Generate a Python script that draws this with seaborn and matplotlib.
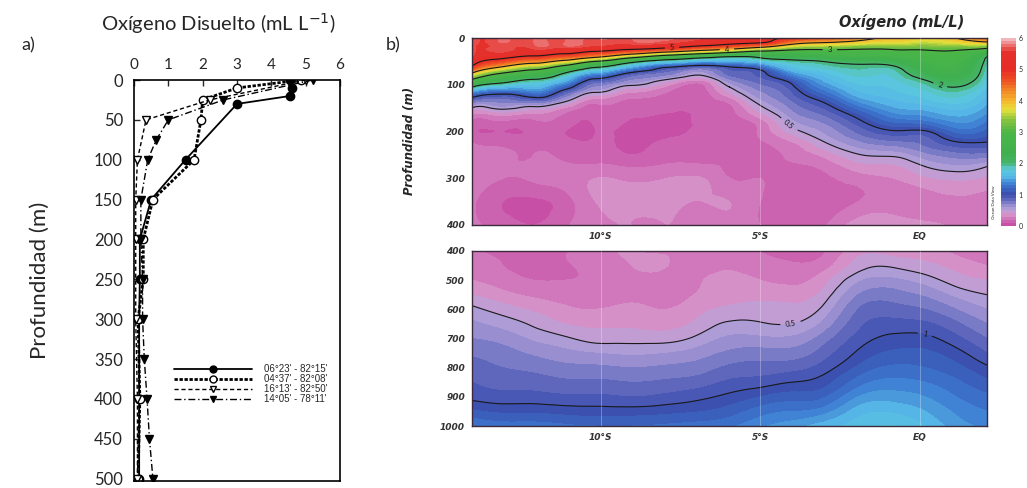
import numpy as np
import pandas as pd
import matplotlib
matplotlib.use("Agg")
import matplotlib.pyplot as plt
import matplotlib.tri as mtri
import seaborn as sns
from matplotlib.colors import LinearSegmentedColormap
from matplotlib.lines import Line2D

sns.set_style("white")
plt.rcParams["font.family"] = ["Lato", "DejaVu Sans"]

# ---------------- panel a) : vertical O2 profiles ----------------
station_labels = ["06°23' - 82°15'", "04°37' - 82°08'", "16°13' - 82°50'", "14°05' - 78°11'"]
s1_depth = [0, 10, 20, 30, 100, 150, 200, 250, 300, 400, 500]
s1_o2 = [4.55, 4.6, 4.55, 3.0, 1.5, 0.5, 0.17, 0.17, 0.15, 0.15, 0.15]
s2_depth = [0, 10, 25, 50, 100, 150, 200, 250, 300, 400, 500]
s2_o2 = [4.85, 3.0, 2.0, 1.95, 1.75, 0.55, 0.27, 0.27, 0.12, 0.17, 0.12]
s3_depth = [0, 25, 50, 100, 150, 200, 300, 400, 500]
s3_o2 = [5.0, 2.2, 0.35, 0.1, 0.05, 0.05, 0.05, 0.1, 0.1]
s4_depth = [0, 25, 50, 75, 100, 150, 200, 250, 300, 350, 400, 450, 500]
s4_o2 = [5.2, 2.6, 1.0, 0.65, 0.4, 0.2, 0.2, 0.25, 0.25, 0.3, 0.38, 0.45, 0.55]
o2_ticks = [0, 1, 2, 3, 4, 5, 6]
depth_ticks_a = list(range(0, 501, 50))

# ---------------- panel b) : section (stations along the coast) ----------------
sec_dist = [0, 6, 12, 18, 24, 31, 38, 45, 50, 56, 62, 68, 75, 82, 88, 94, 100]
sec_depth = [0, 10, 20, 30, 40, 50, 60, 75, 90, 105, 120, 140, 160, 180, 200, 225, 250,
             275, 300, 350, 400, 450, 500, 550, 600, 650, 700, 750, 800, 850, 900, 950, 1000]
st00 = [5.7, 5.7, 5.65, 5.65, 5.6, 5.3, 5.0, 4.0, 2.9, 2.0, 1.25, 0.67, 0.33, 0.17, 0.12, 0.2, 0.25,
        0.25, 0.25, 0.22, 0.22, 0.25, 0.3, 0.4, 0.53, 0.62, 0.7, 0.78, 0.85, 0.9, 0.97, 1.12, 1.3]
st06 = [5.7, 5.7, 5.65, 5.6, 5.2, 4.7, 4.1, 3.0, 2.25, 1.6, 1.0, 0.67, 0.38, 0.18, 0.1, 0.17, 0.22,
        0.22, 0.2, 0.1, 0.15, 0.2, 0.25, 0.33, 0.45, 0.56, 0.66, 0.74, 0.8, 0.86, 0.94, 1.08, 1.25]
st12 = [5.7, 5.7, 5.65, 5.4, 4.9, 4.3, 3.55, 2.6, 1.95, 1.57, 1.2, 0.65, 0.32, 0.17, 0.12, 0.16, 0.2,
        0.22, 0.22, 0.08, 0.1, 0.15, 0.2, 0.28, 0.38, 0.48, 0.58, 0.68, 0.77, 0.85, 0.94, 1.08, 1.25]
st18 = [5.7, 5.7, 5.62, 5.2, 4.6, 3.8, 2.9, 2.0, 1.57, 1.14, 0.8, 0.44, 0.2, 0.15, 0.1, 0.14, 0.18,
        0.22, 0.25, 0.15, 0.18, 0.18, 0.2, 0.25, 0.32, 0.4, 0.52, 0.63, 0.73, 0.82, 0.92, 1.06, 1.22]
st24 = [5.7, 5.65, 5.5, 4.9, 4.15, 3.0, 2.15, 1.45, 0.92, 0.67, 0.44, 0.2, 0.15, 0.12, 0.1, 0.12, 0.15,
        0.22, 0.3, 0.3, 0.28, 0.25, 0.22, 0.24, 0.3, 0.38, 0.46, 0.6, 0.72, 0.82, 0.92, 1.05, 1.2]
st31 = [5.7, 5.65, 5.3, 4.5, 3.3, 2.2, 1.6, 0.95, 0.68, 0.44, 0.26, 0.17, 0.12, 0.09, 0.06, 0.07, 0.1,
        0.19, 0.28, 0.32, 0.3, 0.3, 0.28, 0.28, 0.32, 0.38, 0.46, 0.58, 0.7, 0.8, 0.9, 1.05, 1.2]
st38 = [5.7, 5.62, 5.1, 4.0, 2.6, 1.75, 1.12, 0.75, 0.47, 0.27, 0.18, 0.12, 0.1, 0.09, 0.08, 0.12, 0.15,
        0.22, 0.3, 0.32, 0.3, 0.3, 0.28, 0.27, 0.3, 0.36, 0.46, 0.6, 0.72, 0.82, 0.93, 1.07, 1.22]
st45 = [5.6, 5.4, 4.7, 3.5, 2.2, 1.47, 0.93, 0.57, 0.32, 0.18, 0.15, 0.13, 0.12, 0.12, 0.12, 0.13, 0.15,
        0.22, 0.3, 0.3, 0.28, 0.28, 0.3, 0.32, 0.38, 0.45, 0.55, 0.66, 0.76, 0.86, 0.98, 1.1, 1.25]
st50 = [5.3, 5.15, 4.45, 3.15, 2.0, 1.52, 1.05, 0.84, 0.67, 0.5, 0.37, 0.2, 0.17, 0.14, 0.12, 0.14, 0.16,
        0.18, 0.2, 0.3, 0.25, 0.28, 0.32, 0.36, 0.42, 0.52, 0.62, 0.72, 0.82, 0.92, 1.03, 1.15, 1.28]
st56 = [5.1, 5.02, 4.0, 2.8, 2.1, 1.67, 1.25, 0.94, 0.85, 0.75, 0.66, 0.53, 0.39, 0.25, 0.22, 0.18, 0.15,
        0.18, 0.2, 0.2, 0.2, 0.25, 0.3, 0.36, 0.44, 0.51, 0.62, 0.74, 0.84, 0.95, 1.1, 1.25, 1.38]
st62 = [4.9, 4.3, 3.45, 2.7, 2.25, 1.9, 1.7, 1.4, 1.1, 0.95, 0.87, 0.76, 0.66, 0.55, 0.44, 0.28, 0.22,
        0.18, 0.15, 0.15, 0.15, 0.22, 0.28, 0.35, 0.43, 0.5, 0.62, 0.74, 0.86, 1.0, 1.15, 1.3, 1.45]
st68 = [4.6, 4.0, 3.3, 2.75, 2.35, 2.0, 1.85, 1.65, 1.5, 1.35, 1.18, 0.97, 0.82, 0.7, 0.6, 0.47, 0.32,
        0.22, 0.17, 0.15, 0.18, 0.25, 0.35, 0.43, 0.52, 0.62, 0.74, 0.84, 0.94, 1.05, 1.18, 1.35, 1.55]
st75 = [4.2, 3.8, 3.2, 2.8, 2.5, 2.15, 1.95, 1.85, 1.75, 1.65, 1.55, 1.35, 1.12, 0.95, 0.82, 0.66, 0.49,
        0.35, 0.25, 0.2, 0.35, 0.45, 0.58, 0.7, 0.8, 0.87, 0.94, 1.02, 1.12, 1.25, 1.4, 1.55, 1.65]
st82 = [3.95, 3.7, 3.2, 2.85, 2.55, 2.25, 2.0, 1.85, 1.78, 1.72, 1.66, 1.55, 1.4, 1.2, 0.98, 0.75, 0.53,
        0.38, 0.3, 0.25, 0.35, 0.48, 0.62, 0.74, 0.84, 0.94, 1.03, 1.12, 1.22, 1.33, 1.45, 1.58, 1.7]
st88 = [3.8, 3.55, 3.2, 2.9, 2.75, 2.6, 2.45, 2.25, 2.0, 1.85, 1.75, 1.62, 1.45, 1.25, 0.98, 0.82, 0.66,
        0.5, 0.38, 0.25, 0.32, 0.43, 0.55, 0.68, 0.8, 0.92, 1.03, 1.12, 1.2, 1.3, 1.4, 1.5, 1.6]
st94 = [4.0, 3.7, 3.25, 2.92, 2.8, 2.65, 2.55, 2.4, 2.2, 2.0, 1.85, 1.7, 1.55, 1.4, 1.22, 0.97, 0.75,
        0.57, 0.42, 0.28, 0.28, 0.36, 0.45, 0.57, 0.7, 0.82, 0.93, 1.04, 1.13, 1.22, 1.3, 1.38, 1.45]
st100 = [4.5, 3.9, 3.15, 2.5, 2.0, 1.9, 1.85, 1.8, 1.75, 1.68, 1.6, 1.5, 1.4, 1.28, 1.15, 0.98, 0.75,
         0.5, 0.38, 0.25, 0.22, 0.3, 0.4, 0.5, 0.6, 0.7, 0.8, 0.9, 1.02, 1.12, 1.22, 1.3, 1.38]
stations = [st00, st06, st12, st18, st24, st31, st38, st45, st50, st56, st62, st68, st75, st82, st88, st94, st100]
lat_ticks = [25, 56, 87]
lat_labels = ["10°S", "5°S", "EQ"]
iso_levels = [0.5, 1, 2, 3, 4, 5]
cbar_ticks = [0, 1, 2, 3, 4, 5, 6]

# ODV-like palette
cmap_stops = [(0.0, "#c4459f"), (0.2, "#cf6fb8"), (0.35, "#d695cb"), (0.5, "#b7a2d8"),
              (0.7, "#8a86cc"), (0.9, "#4f5cb8"), (1.05, "#3a4fae"), (1.3, "#3c78cf"),
              (1.55, "#55b5e6"), (1.8, "#5ccadb"), (2.0, "#45b46a"), (2.3, "#3fb04f"),
              (3.0, "#4cb647"), (3.4, "#8cc43f"), (3.7, "#e6e23b"), (4.0, "#f6b82e"),
              (4.3, "#f28a26"), (4.7, "#ec4b24"), (5.0, "#e62b26"), (5.6, "#e5322c"),
              (6.0, "#f3c6cf")]
cmap = LinearSegmentedColormap.from_list("odv", [(v / 6.0, c) for v, c in cmap_stops])

W, H = 1027, 488
fig = plt.figure(figsize=(W / 100, H / 100), dpi=100)


def box(l, t, r, b):
    return [l / W, 1 - b / H, (r - l) / W, (b - t) / H]


axA = fig.add_axes(box(134, 80, 340, 481))
axU = fig.add_axes(box(472, 38, 987, 225))
axL = fig.add_axes(box(472, 251, 987, 426))
cax = fig.add_axes(box(1001, 38, 1016, 226))

# ---------- panel a ----------
styles = [dict(linestyle="-", lw=1.3, marker="o", mfc="k", mec="k"),
          dict(linestyle=(0, (1.2, 0.6)), lw=2.0, marker="o", mfc="white", mec="k"),
          dict(linestyle=(0, (3, 2)), lw=1.0, marker="v", mfc="white", mec="k"),
          dict(linestyle=(0, (5, 2, 1, 2)), lw=1.0, marker="v", mfc="k", mec="k")]
series = [(s1_depth, s1_o2), (s2_depth, s2_o2), (s3_depth, s3_o2), (s4_depth, s4_o2)]
for (d, o), st in zip(series, styles):
    df = pd.DataFrame({"o2": o, "depth": d})
    sns.lineplot(data=df, x="o2", y="depth", orient="y", sort=False, estimator=None,
                 ax=axA, color="k", ms=6, mew=1, **st)

axA.set_xlim(0, 6)
axA.set_ylim(503, 0)
axA.xaxis.tick_top()
axA.set_xticks(o2_ticks)
axA.set_yticks(depth_ticks_a)
axA.tick_params(direction="in", length=4, width=1, top=True, bottom=False, left=True, right=False)
axA.tick_params(axis="x", labelsize=11, pad=6)
axA.tick_params(axis="y", labelsize=12, pad=8)
for sp in axA.spines.values():
    sp.set_color("k")
    sp.set_linewidth(1.2)
axA.set_xlabel("Oxígeno Disuelto (mL L$^{-1}$)", fontsize=14.5, va="center")
axA.xaxis.set_label_coords(0.41, 1.142)
axA.set_ylabel("Profundidad (m)", fontsize=16, va="center")
axA.yaxis.set_label_coords(-0.456, 0.5)

handles = [Line2D([], [], color="k", ms=5, **st) for st in styles]
axA.legend(handles, station_labels, loc="upper left", bbox_to_anchor=(174 / W, 1 - 364 / H),
           bbox_transform=fig.transFigure, frameon=False, prop={"family": "Liberation Sans", "size": 7},
           handlelength=8.0, handletextpad=1.3, labelspacing=0.0, borderpad=0, borderaxespad=0,
           numpoints=1)

# ---------- panel b ----------
Z = np.column_stack(stations)
X, Y = np.meshgrid(sec_dist, sec_depth)
# library-side smoothing of the station grid (like ODV gridding)
yscale = 5.0
tri0 = mtri.Triangulation(X.ravel(), Y.ravel() / yscale)
tri_f, z_f = mtri.UniformTriRefiner(tri0).refine_field(Z.ravel(), subdiv=3)
tri_plot = mtri.Triangulation(tri_f.x, tri_f.y * yscale, triangles=tri_f.triangles)
z_f = np.clip(z_f, 0.0, 6.0)

levels = np.arange(0, 6.01, 0.1)
bfont = dict(family="DejaVu Sans", weight="bold", style="italic")
for ax, ylim, yt in [(axU, (400, 0), range(0, 401, 100)), (axL, (1000, 400), range(400, 1001, 100))]:
    cf = ax.tricontourf(tri_plot, z_f, levels=levels, cmap=cmap, vmin=0, vmax=6)
    cs = ax.tricontour(tri_plot, z_f, levels=iso_levels, colors="#1a1a1a", linewidths=0.8)
    ax.set_xlim(0, 100)
    ax.set_ylim(*ylim)
    ax.set_xticks(lat_ticks)
    ax.set_xticklabels(lat_labels)
    ax.set_yticks(list(yt))
    ax.set_axisbelow(False)
    ax.grid(axis="x", color="white", alpha=0.35, lw=0.6)
    ax.grid(axis="y", visible=False)
    ax.tick_params(length=0, pad=5, labelsize=6.5, labelcolor="#333333")
    for lab in ax.get_xticklabels() + ax.get_yticklabels():
        lab.set_fontfamily("DejaVu Sans")
        lab.set_fontweight("bold")
        lab.set_fontstyle("italic")
    for sp in ax.spines.values():
        sp.set_color("#3a2a3a")
        sp.set_linewidth(1.0)
    if ax is axU:
        ax.clabel(cs, inline=True, fontsize=5.5, fmt="%g",
                  manual=[(61, 192), (91, 97), (69.5, 21), (38.8, 11), (49.5, 26)])
    else:
        ax.clabel(cs, inline=True, fontsize=5.5, fmt="%g", manual=[(62, 671), (88, 681)])

axU.set_ylabel("Profundidad (m)", fontsize=8.5, **bfont)
axU.yaxis.set_label_coords(-0.109, 0.45)

cb = fig.colorbar(cf, cax=cax, ticks=cbar_ticks)
cb.outline.set_visible(False)
cax.tick_params(labelsize=5, length=0, pad=2)

fig.text(28 / W, 1 - 45 / H, "a)", fontsize=13, ha="center", va="center")
fig.text(393 / W, 1 - 45 / H, "b)", fontsize=13, ha="center", va="center")
fig.text(902 / W, 1 - 22 / H, "Oxígeno (mL/L)", fontsize=10.5, ha="center", va="center", **bfont)
fig.text(994 / W, 1 - 202 / H, "Ocean Data View", fontsize=3.2, rotation=90,
         ha="center", va="center")

fig.savefig("out.png", dpi=100)
